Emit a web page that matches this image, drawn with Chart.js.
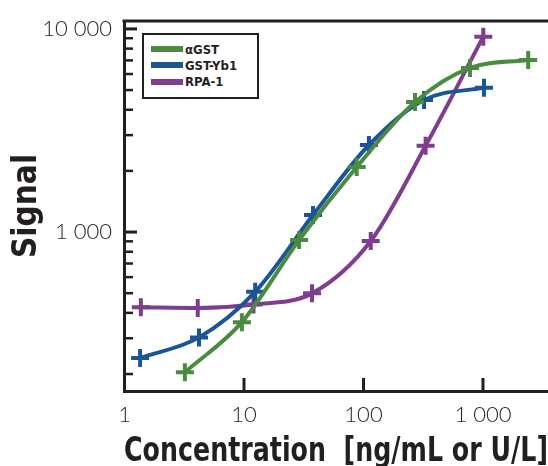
<!DOCTYPE html>
<html>
<head>
<meta charset="utf-8">
<script src="https://cdn.jsdelivr.net/npm/chart.js@4"></script>
<style>
  body { margin: 0; background: #fff; }
  #wrap { position: relative; width: 548px; height: 466px; }
  #legend {
    position: absolute; left: 142px; top: 33px; width: 117px; height: 66px;
    box-sizing: border-box; border: 2px solid #231f20; background: #fff;
    font: bold 13px "DejaVu Sans Condensed", sans-serif; color: #231f20;
  }
  .row { position: absolute; left: 7px; height: 16px; display: flex; align-items: center; }
  .swatch { width: 32px; height: 6px; margin-right: 2px; }
</style>
</head>
<body>
<div id="wrap">
  <canvas id="chart" width="548" height="466"></canvas>
  <div id="legend"></div>
</div>
<script>
// Dose-response curves, both axes logarithmic

const seriesNames = ["αGST", "GST-Yb1", "RPA-1"];
const seriesColors = ["#4a8b41", "#1b5596", "#7e3d8e"];

// concentrations [ng/mL or U/L] and signal
const gstAlphaConc = [3.2, 9.6, 28.9, 87.7, 270, 778, 2390];
const gstAlphaSignal = [204, 360, 913, 2090, 4365, 6430, 7030];

const gstYb1Conc = [1.35, 4.2, 12.4, 37.8, 111, 321, 1019];
const gstYb1Signal = [240, 303, 508, 1213, 2683, 4470, 5140];

const rpa1Conc = [1.37, 4.1, 12.0, 37.1, 115, 331, 1006];
const rpa1Signal = [426, 423, 440, 499, 903, 2660, 9160];

const xTickValues = [1, 10, 100, 1000];
const xTickLabels = ["1", "10", "100", "1 000"];
const yTickValues = [200, 300, 400, 500, 600, 700, 800, 900, 1000,
                     2000, 3000, 4000, 5000, 6000, 7000, 8000, 9000, 10000];
const yLabelled = { 1000: "1 000", 10000: "10 000" };

const AXIS_COLOR = "#231f20";
const TITLE_FONT = '"DejaVu Sans Condensed", sans-serif';
const TICK_FONT = 'Lato, "Open Sans", sans-serif';

function toPoints(xs, ys) {
  return xs.map((x, i) => ({ x: x, y: ys[i] }));
}

function makeDataset(i, xs, ys, order) {
  return {
    label: seriesNames[i],
    data: toPoints(xs, ys),
    borderColor: seriesColors[i],
    backgroundColor: seriesColors[i],
    borderWidth: 4,
    cubicInterpolationMode: "monotone",
    pointStyle: "cross",
    pointRadius: 9,
    pointBorderWidth: 4,
    order: order
  };
}

// tick marks point into the plot, plus the top frame line
const innerTicks = {
  id: "innerTicks",
  beforeDatasetsDraw(chart) {
    const { ctx, chartArea: a, scales: { x, y } } = chart;
    ctx.save();
    ctx.strokeStyle = AXIS_COLOR;
    y.ticks.forEach(t => {
      const py = y.getPixelForValue(t.value);
      const major = yLabelled[t.value] !== undefined;
      ctx.lineWidth = major ? 3 : 2.5;
      ctx.beginPath();
      ctx.moveTo(a.left, py);
      ctx.lineTo(a.left + (major ? 13 : 9), py);
      ctx.stroke();
    });
    x.ticks.forEach(t => {
      const px = x.getPixelForValue(t.value);
      ctx.lineWidth = 3;
      ctx.beginPath();
      ctx.moveTo(px, a.bottom);
      ctx.lineTo(px, a.bottom - 13);
      ctx.stroke();
    });
    ctx.lineWidth = 3;
    ctx.beginPath();
    ctx.moveTo(a.left - 1.5, a.top);
    ctx.lineTo(a.right, a.top);
    ctx.stroke();
    ctx.restore();
  }
};

new Chart(document.getElementById("chart"), {
  type: "line",
  data: {
    datasets: [
      makeDataset(0, gstAlphaConc, gstAlphaSignal, 0),
      makeDataset(1, gstYb1Conc, gstYb1Signal, 1),
      makeDataset(2, rpa1Conc, rpa1Signal, 2)
    ]
  },
  options: {
    responsive: false,
    animation: false,
    devicePixelRatio: 1,
    layout: { autoPadding: false, padding: { top: 21, right: 0, left: 0, bottom: 0 } },
    plugins: { legend: { display: false }, tooltip: { enabled: false } },
    scales: {
      x: {
        type: "logarithmic",
        min: 0.99,
        max: 3500,
        afterBuildTicks: s => { s.ticks = xTickValues.map(v => ({ value: v })); },
        afterFit: s => { s.height = 75; s.paddingLeft = 0; s.paddingRight = 0; },
        grid: { display: false, drawTicks: false },
        border: { display: true, width: 3, color: AXIS_COLOR },
        ticks: {
          autoSkip: false,
          maxRotation: 0,
          padding: 11,
          color: AXIS_COLOR,
          font: { family: TICK_FONT, size: 22, weight: 300 },
          callback: (v, i) => xTickLabels[i]
        },
        title: {
          display: true,
          text: "Concentration  [ng/mL or U/L]",
          color: AXIS_COLOR,
          font: { family: TITLE_FONT, size: 33, weight: "bold", lineHeight: 0.8 },
          padding: { top: 0, bottom: 0 }
        }
      },
      y: {
        type: "logarithmic",
        min: 165,
        max: 10940,
        afterBuildTicks: s => { s.ticks = yTickValues.map(v => ({ value: v })); },
        afterFit: s => { s.width = 124; s.paddingTop = 0; s.paddingBottom = 0; },
        grid: { display: false, drawTicks: false },
        border: { display: true, width: 3, color: AXIS_COLOR },
        ticks: {
          autoSkip: false,
          padding: 12,
          color: AXIS_COLOR,
          font: { family: TICK_FONT, size: 22, weight: 300 },
          callback: v => yLabelled[v] || ""
        },
        title: {
          display: true,
          text: "Signal",
          color: AXIS_COLOR,
          font: { family: TITLE_FONT, size: 33, weight: "bold", lineHeight: 0.8 },
          padding: { top: 14, bottom: 0 }
        }
      }
    }
  },
  plugins: [innerTicks]
});

// legend box drawn as html over the plot
const legend = document.getElementById("legend");
seriesNames.forEach((name, i) => {
  const row = document.createElement("div");
  row.className = "row";
  row.style.top = (6 + i * 16.3) + "px";
  row.innerHTML = '<span class="swatch" style="background:' + seriesColors[i] + '"></span><span>' + name + "</span>";
  legend.appendChild(row);
});
</script>
</body>
</html>
